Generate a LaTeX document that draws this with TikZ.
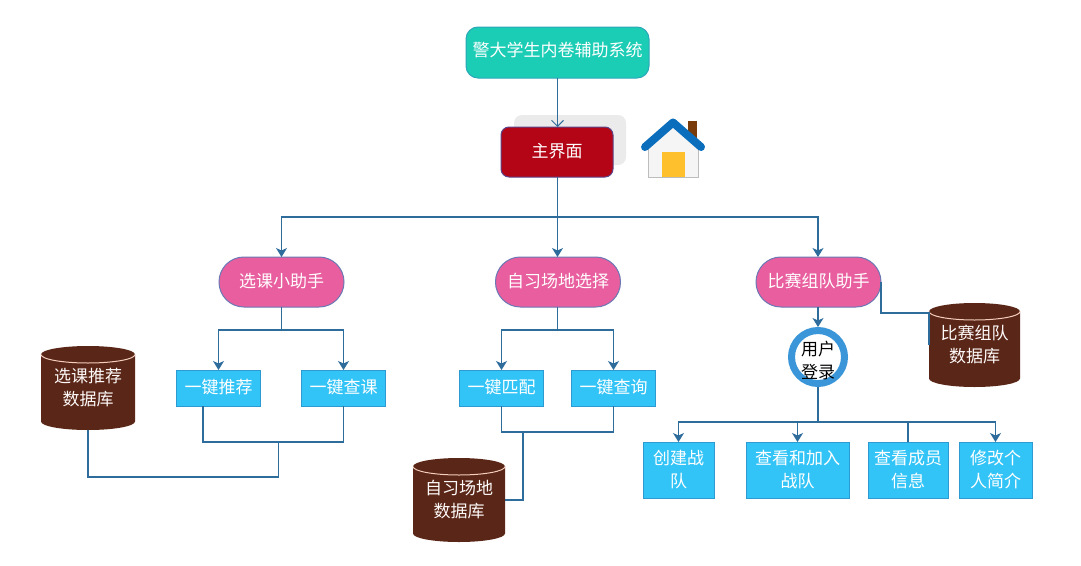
\documentclass[tikz,border=0pt]{standalone}
\usepackage{fontspec}
\setmainfont{Noto Sans CJK SC}
\usetikzlibrary{arrows.meta,calc}
\definecolor{linkc}{HTML}{2E6C9C}
\definecolor{tealf}{HTML}{1CCDB5}
\definecolor{tealb}{HTML}{2BA8B8}
\definecolor{redf}{HTML}{B30516}
\definecolor{redb}{HTML}{5C4488}
\definecolor{pinkf}{HTML}{E85E9E}
\definecolor{pinkb}{HTML}{6A78B4}
\definecolor{boxf}{HTML}{33C4F7}
\definecolor{boxb}{HTML}{2E9AD2}
\definecolor{dbf}{HTML}{5A2617}
\definecolor{dbl}{HTML}{F3CDBE}
\definecolor{ringc}{HTML}{3A96D8}
\definecolor{roofc}{HTML}{0A6EBD}
\definecolor{chimc}{HTML}{7A3B0A}
\definecolor{doorc}{HTML}{FFC02E}
\definecolor{wallc}{HTML}{F5F5F5}
\definecolor{walle}{HTML}{BDBDBD}
\tikzset{
  txt/.style={font=\fontsize{17pt}{23pt}\selectfont,align=center,text=white,inner sep=0pt,outer sep=0pt},
  lift/.style={execute at end node={\rule[-#1]{0pt}{0pt}}},
  titlebox/.style={txt,lift=6pt,draw=tealb,fill=tealf,line width=1pt,rounded corners=12pt,minimum width=183pt,minimum height=51pt},
  mainbox/.style={txt,lift=4pt,draw=redb,fill=redf,line width=1pt,rounded corners=8pt,minimum width=112pt,minimum height=50pt},
  shadowbox/.style={inner sep=0pt,outer sep=0pt,fill=black!8,rounded corners=8pt,minimum width=112pt,minimum height=50pt},
  pill/.style={txt,lift=4pt,draw=pinkb,fill=pinkf,line width=1pt,rounded corners=24.9pt,minimum width=125pt,minimum height=50pt},
  boxbase/.style={txt,draw=boxb,fill=boxf,line width=1pt},
  funcbox/.style={boxbase,lift=4pt,minimum width=84.5pt,minimum height=36pt},
  listbox/.style={boxbase,minimum height=56pt},
  dbnode/.style={txt,text=white!90!dbl,minimum height=84pt},
  ring/.style={txt,text=black,circle,draw=ringc,fill=white,line width=7pt,minimum size=53pt,outer sep=3.5pt},
  link/.style={draw=linkc,line width=1.2pt},
  arr/.style={link,-{Stealth[length=9pt,width=11pt,inset=2.5pt]}},
  openarr/.style={link,-{Straight Barb[length=6pt,width=12pt,line width=1pt]}}
}
% cylinder: body filled first, then a named node on top that carries the text
\newcommand{\dbdraw}[5]{% name, x, y (centre), width, text
  \fill[dbf] ({#2-#4/2},{#3-33.5}) arc[x radius=#4/2,y radius=8.5,start angle=180,end angle=360]
     -- ({#2+#4/2},{#3+33.5}) arc[x radius=#4/2,y radius=8.5,start angle=0,end angle=180] -- cycle;
  \draw[dbl,line width=1pt] ({#2-#4/2},{#3-33.5}) arc[x radius=#4/2,y radius=8.5,start angle=180,end angle=0];
  \node[dbnode,minimum width=#4 pt] (#1) at (#2,#3) {#5};
}
\begin{document}
\begin{tikzpicture}[x=1pt,y=-1pt]
\fill[white] (0,0) rectangle (1081,565);
\useasboundingbox (0,0) rectangle (1081,565);

% top
\node[titlebox] (title) at (557.5,52.5) {警大学生内卷辅助系统};
\node[shadowbox] (shadow) at (570,140) {};
\node[mainbox] (main) at (557,152) {主界面};

% house
\fill[chimc] (688,121) rectangle (697,140);
\fill[wallc] (648,142) -- (673,122) -- (698,142) -- (698,177) -- (648,177) -- cycle;
\draw[walle,line width=.8pt] (648,146) -- (648,177) -- (698,177) -- (698,146);
\fill[doorc] (662,152) rectangle (685,177);
\draw[roofc,line width=8pt,line cap=round,line join=round] (645,147) -- (673,122.5) -- (701,147);

% second row
\node[pill] (p1) at (281.5,282) {选课小助手};
\node[pill] (p2) at (558,282) {自习场地选择};
\node[pill] (p3) at (818.5,282) {比赛组队助手};

% feature boxes
\node[funcbox] (b1) at (218.5,388) {一键推荐};
\node[funcbox] (b2) at (343.5,388) {一键查课};
\node[funcbox] (b3) at (501.5,388) {一键匹配};
\node[funcbox] (b4) at (613.5,388) {一键查询};

% databases
\dbdraw{d1}{88}{388}{94}{选课推荐\\数据库}
\dbdraw{d2}{459}{500}{92}{自习场地\\数据库}
\dbdraw{d3}{974.5}{345}{91}{比赛组队\\数据库}

% login
\node[ring] (login) at (818,357) {\makebox[0pt]{\raisebox{-10pt}[0pt][0pt]{\begin{tabular}[c]{@{}c@{}}用户\\登录\end{tabular}}}};

% team boxes
\node[listbox,minimum width=71pt] (t1) at (678.5,470) {创建战\\队};
\node[listbox,minimum width=103pt] (t2) at (797.5,470) {查看和加入\\战队};
\node[listbox,minimum width=80pt] (t3) at (908,470) {查看成员\\信息};
\node[listbox,minimum width=73pt] (t4) at (995.5,470) {修改个\\人简介};

% junction points
\coordinate (j0) at (557.5,217);
\coordinate (j1) at (281.5,330);
\coordinate (j2) at (557.5,330);
\coordinate (j3) at (818,422);
\coordinate (m1) at (278.5,442);
\coordinate (m2) at (523,432);

% connectors
\draw[openarr] (title.south -| j0) -- (main.north -| j0);
\draw[link] (main.south -| j0) -- (j0);
\draw[arr] (j0) -| (p1.north);
\draw[arr] (j0) -- (p2.north -| j0);
\draw[arr] (j0) -| (login.north |- p3.north);

\draw[link] (p1.south) -- (j1);
\draw[arr] (j1) -| (b1.north);
\draw[arr] (j1) -| (b2.north);
\draw[link] (p2.south -| j2) -- (j2);
\draw[arr] (j2) -| (b3.north);
\draw[arr] (j2) -| (b4.north);

\draw[link] ([xshift=-15.5pt]b1.south) |- (m1) -| (b2.south);
\draw[link] (m1) |- (d1.south |- 0,477) -- (d1.south);
\draw[link] (b3.south) |- (m2) -| (b4.south);
\draw[link] (m2) |- (d2.east);

\draw[link] (p3.east) |- (d3.west |- 0,313) -- (d3.west);
\draw[arr] (login.north |- p3.south) -- (login.north);
\draw[link] (login.south) -- (j3);
\draw[arr] (j3) -| (t1.north);
\draw[arr] (j3) -| (t2.north);
\draw[link] (j3) -| (t3.north);
\draw[arr] (j3) -| (t4.north);
\end{tikzpicture}
\end{document}
